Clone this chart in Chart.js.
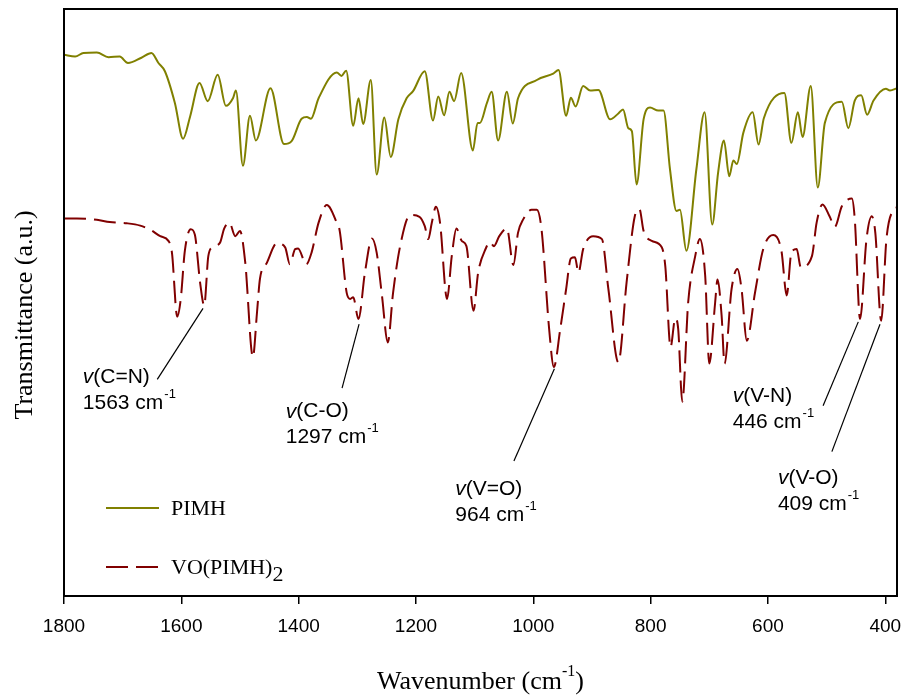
<!DOCTYPE html>
<html>
<head>
<meta charset="utf-8">
<script src="https://cdn.jsdelivr.net/npm/chart.js@4.4.0/dist/chart.umd.min.js"></script>
<style>
  html, body { margin: 0; padding: 0; background: #fff; }
</style>
</head>
<body>
<canvas id="ir" width="909" height="698"></canvas>
<script>
// FTIR spectra (x = wavenumber cm-1, y = transmittance a.u.)
const pimhWavenumber = [
  1800, 1781, 1767, 1744, 1724, 1705, 1691, 1668, 1651, 1639,
  1628, 1611, 1597, 1585, 1569, 1555, 1538, 1524, 1512, 1507,
  1495, 1483, 1473, 1448, 1425, 1412, 1395, 1386, 1379, 1366,
  1335, 1327, 1319, 1307, 1298, 1290, 1277, 1267, 1254, 1243,
  1230, 1216, 1205, 1185, 1171, 1162, 1152, 1143, 1135, 1123,
  1103, 1095, 1091, 1079, 1071, 1060, 1045, 1035, 1026, 994,
  966, 957, 944, 936, 928, 915, 903, 889, 869, 855,
  847, 838, 832, 824, 812, 801, 787, 778, 767, 756,
  750, 739, 722, 708, 695, 685, 675, 666, 659, 653,
  642, 626, 616, 607, 572, 560, 549, 541, 527, 515,
  503, 474, 463, 452, 441, 431, 420, 399, 392, 380
];
const pimhTransmittance = [
  92.2, 91.9, 92.5, 92.6, 91.8, 91.9, 90.8, 91.7, 92.5, 90.8,
  89.4, 84.0, 77.9, 81.7, 87.4, 84.3, 88.8, 83.5, 84.8, 86.1,
  73.3, 81.8, 77.6, 86.5, 77.0, 77.5, 81.3, 81.6, 81.3, 84.8,
  89.2, 88.6, 89.5, 80.1, 84.8, 80.4, 87.9, 71.8, 81.5, 74.8,
  81.2, 84.8, 86.0, 89.4, 81.0, 85.1, 81.9, 85.9, 84.3, 89.1,
  75.9, 80.6, 80.6, 84.0, 85.9, 77.6, 85.9, 80.5, 84.8, 87.9,
  89.0, 89.6, 81.8, 84.9, 83.4, 86.9, 86.1, 86.2, 81.2, 82.2,
  82.9, 79.7, 79.2, 70.1, 81.2, 83.2, 82.7, 82.7, 72.7, 65.6,
  65.8, 58.8, 72.7, 82.4, 63.3, 72.1, 77.6, 71.5, 74.2, 73.6,
  78.9, 82.4, 76.9, 81.4, 85.7, 77.2, 82.4, 78.2, 86.9, 69.6,
  80.6, 84.2, 79.7, 84.4, 85.3, 82.0, 84.4, 86.4, 86.1, 86.5
];
const complexWavenumber = [
  1800, 1778, 1744, 1722, 1693, 1670, 1653, 1636, 1622, 1616,
  1607, 1601, 1594, 1584, 1577, 1568, 1561, 1554, 1547, 1534,
  1527, 1518, 1508, 1500, 1491, 1478, 1471, 1466, 1454, 1437,
  1423, 1415, 1406, 1401, 1387, 1378, 1366, 1352, 1335, 1330,
  1318, 1312, 1307, 1298, 1287, 1275, 1267, 1258, 1248, 1239,
  1227, 1210, 1194, 1185, 1179, 1173, 1166, 1159, 1147, 1139,
  1131, 1122, 1114, 1102, 1094, 1081, 1074, 1067, 1058, 1045,
  1034, 1026, 1017, 1003, 994, 986, 973, 965, 954, 944,
  936, 929, 923, 915, 898, 883, 872, 855, 841, 827,
  819, 812, 798, 781, 775, 766, 758, 753, 746, 736,
  724, 716, 707, 700, 690, 686, 679, 674, 662, 652,
  645, 636, 622, 608, 591, 577, 568, 560, 551, 544,
  525, 517, 507, 495, 486, 474, 457, 452, 443, 432,
  423, 417, 407, 398, 386, 380
];
const complexTransmittance = [
  64.3, 64.3, 64.1, 63.7, 63.5, 63.1, 62.4, 61.3, 60.5, 58.5,
  47.6, 50.6, 58.8, 62.5, 61.6, 53.4, 49.5, 57.9, 59.4, 60.2,
  62.6, 63.6, 61.3, 62.2, 56.8, 40.7, 48.3, 54.0, 56.8, 60.1,
  59.4, 56.5, 59.1, 59.2, 56.5, 58.5, 63.6, 66.6, 63.6, 62.2,
  51.6, 50.6, 50.9, 47.2, 55.1, 60.9, 58.5, 51.2, 43.2, 51.7,
  59.6, 64.9, 64.6, 63.0, 60.8, 63.6, 66.3, 63.6, 50.6, 57.9,
  62.6, 60.5, 59.6, 48.6, 55.1, 59.2, 60.3, 59.6, 61.3, 62.6,
  56.4, 61.9, 64.2, 65.8, 65.8, 62.5, 45.5, 39.0, 45.5, 52.3,
  57.5, 57.7, 55.1, 59.1, 61.3, 60.8, 52.3, 39.8, 53.4, 64.7,
  65.9, 62.2, 60.5, 59.4, 56.2, 42.4, 47.3, 45.5, 33.1, 50.0,
  57.9, 60.8, 54.6, 39.6, 50.0, 53.9, 47.8, 39.6, 52.3, 55.7,
  52.3, 43.5, 51.7, 59.1, 61.5, 58.8, 51.2, 58.5, 59.1, 56.0,
  57.9, 63.6, 66.7, 64.7, 62.9, 66.4, 67.7, 64.2, 47.2, 60.8,
  64.7, 61.9, 46.9, 60.8, 65.8, 66.2
];
const xTickValues = [1800, 1600, 1400, 1200, 1000, 800, 600, 400];
const seriesNames = ['PIMH', 'VO(PIMH)'];
const bandNames = ['C=N', 'C-O', 'V=O', 'V-N', 'V-O'];
const bandWavenumbers = [1563, 1297, 964, 446, 409];

// where each band label sits (data units): pointer tip/tail and text anchor
const bandLayout = [
  { tipY: 49.0, tailX: 1641, tailY: 36.9, textX: 1768, textY: 37.2 },
  { tipY: 46.3, tailX: 1326, tailY: 35.4, textX: 1422, textY: 31.4 },
  { tipY: 38.7, tailX: 1033, tailY: 23.0, textX: 1133, textY: 18.2 },
  { tipY: 46.7, tailX: 506,  tailY: 32.4, textX: 660,  textY: 34.0 },
  { tipY: 46.3, tailX: 491,  tailY: 24.6, textX: 583,  textY: 20.0 }
];

const SANS = '"Liberation Sans", Arial, sans-serif';
const SERIF = '"Liberation Serif", "Times New Roman", serif';
const OLIVE = '#808000';
const MAROON = '#800000';

const toPoints = (xs, ys) => xs.map((w, i) => ({ x: w, y: ys[i] }));

// frame, band labels, legend and axis titles (superscripts need manual drawing)
const decorations = {
  id: 'decorations',
  afterDatasetsDraw(chart) {
    const { ctx, chartArea: a, scales: { x, y } } = chart;
    ctx.save();
    ctx.strokeStyle = '#000';
    ctx.lineWidth = 2;
    ctx.strokeRect(a.left, a.top, a.right - a.left, a.bottom - a.top);

    ctx.fillStyle = '#000';
    ctx.textBaseline = 'middle';
    ctx.textAlign = 'left';
    bandNames.forEach((name, i) => {
      const L = bandLayout[i];
      ctx.lineWidth = 1.2;
      ctx.beginPath();
      ctx.moveTo(x.getPixelForValue(bandWavenumbers[i]), y.getPixelForValue(L.tipY));
      ctx.lineTo(x.getPixelForValue(L.tailX), y.getPixelForValue(L.tailY));
      ctx.stroke();

      const tx = x.getPixelForValue(L.textX);
      const ty = y.getPixelForValue(L.textY);
      ctx.font = 'italic 21px ' + SANS;
      ctx.fillText('v', tx, ty);
      let w = ctx.measureText('v').width;
      ctx.font = '21px ' + SANS;
      ctx.fillText('(' + name + ')', tx + w, ty);
      const line2 = bandWavenumbers[i] + ' cm';
      ctx.fillText(line2, tx, ty + 26);
      w = ctx.measureText(line2).width;
      ctx.font = '13px ' + SANS;
      ctx.fillText('-1', tx + w + 1, ty + 17);
    });

    // legend
    const lx0 = a.left + 42, lx1 = a.left + 95, tx = a.left + 107;
    const rows = [508, 567];
    chart.data.datasets.forEach((ds, i) => {
      ctx.strokeStyle = ds.borderColor;
      ctx.lineWidth = 2;
      ctx.setLineDash(ds.borderDash || []);
      ctx.beginPath();
      ctx.moveTo(lx0, rows[i]);
      ctx.lineTo(lx1, rows[i]);
      ctx.stroke();
      ctx.setLineDash([]);
      ctx.fillStyle = '#000';
      ctx.font = '22px ' + SERIF;
      ctx.fillText(seriesNames[i], tx, rows[i] + 1);
      if (i === 1) {
        const w = ctx.measureText(seriesNames[i]).width;
        ctx.fillText('2', tx + w, rows[i] + 8);
      }
    });

    // axis titles
    const big = '26px ' + SERIF, small = '16px ' + SERIF;
    ctx.font = big;
    const main = 'Wavenumber (cm';
    const mw = ctx.measureText(main).width;
    const cw = ctx.measureText(')').width;
    ctx.font = small;
    const sw = ctx.measureText('-1').width;
    const total = mw + sw + cw;
    const cx = (a.left + a.right) / 2 - total / 2;
    const cy = 682;
    ctx.font = big;
    ctx.fillText(main, cx, cy);
    ctx.font = small;
    ctx.fillText('-1', cx + mw, cy - 10);
    ctx.font = big;
    ctx.fillText(')', cx + mw + sw, cy);

    ctx.translate(25, 315);
    ctx.rotate(-Math.PI / 2);
    ctx.textAlign = 'center';
    ctx.fillText('Transmittance (a.u.)', 0, 0);
    ctx.restore();
  }
};

new Chart(document.getElementById('ir'), {
  type: 'line',
  data: {
    datasets: [
      {
        label: seriesNames[0],
        data: toPoints(pimhWavenumber, pimhTransmittance),
        borderColor: OLIVE,
        borderWidth: 2,
        pointRadius: 0,
        cubicInterpolationMode: 'monotone',
        fill: false
      },
      {
        label: seriesNames[1] + '2',
        data: toPoints(complexWavenumber, complexTransmittance),
        borderColor: MAROON,
        borderWidth: 2,
        borderDash: [22, 8],
        pointRadius: 0,
        cubicInterpolationMode: 'monotone',
        fill: false
      }
    ]
  },
  options: {
    responsive: false,
    animation: false,
    layout: { padding: { top: 9, right: 12, left: 0, bottom: 0 } },
    scales: {
      x: {
        type: 'linear',
        reverse: true,
        min: 380,
        max: 1800,
        afterBuildTicks: s => { s.ticks = xTickValues.map(v => ({ value: v })); },
        afterFit: s => { s.height = 102; s.paddingLeft = 0; s.paddingRight = 0; },
        ticks: {
          color: '#000',
          font: { family: SANS, size: 19 },
          padding: 11,
          maxRotation: 0,
          autoSkip: false,
          callback: v => String(v)
        },
        grid: { drawOnChartArea: false, drawTicks: true, tickLength: 8, color: '#000', lineWidth: 1.5 },
        border: { display: false }
      },
      y: {
        min: 0,
        max: 100,
        afterFit: s => { s.width = 64; },
        ticks: { display: false },
        grid: { display: false },
        border: { display: false }
      }
    },
    plugins: {
      legend: { display: false },
      tooltip: { enabled: false }
    }
  },
  plugins: [decorations]
});
</script>
</body>
</html>
